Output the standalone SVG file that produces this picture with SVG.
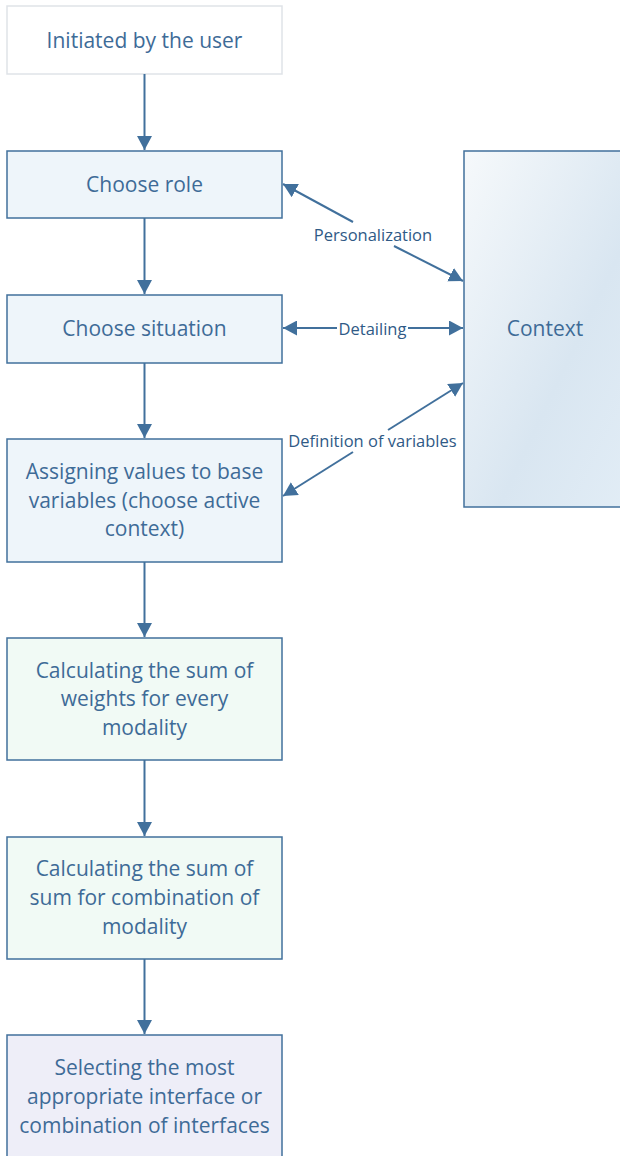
<svg xmlns="http://www.w3.org/2000/svg" width="620" height="1156" viewBox="0 0 620 1156">
<style>
.box{stroke:#41709c;stroke-width:1.5}
.t{font-family:"Open Sans","Liberation Sans",sans-serif;font-size:21px;fill:#3e6b97;text-anchor:middle;dominant-baseline:central}
.l{font-family:"Open Sans","Liberation Sans",sans-serif;font-size:16.5px;fill:#2f5a86;text-anchor:middle;dominant-baseline:central}
.c{stroke:#41709c;stroke-width:2;fill:none}
</style>
<defs>
<marker id="ah" viewBox="0 0 14 15" refX="14" refY="7.5" markerWidth="14" markerHeight="15" markerUnits="userSpaceOnUse" orient="auto-start-reverse">
<path d="M0,0 L14,7.5 L0,15 z" fill="#41709c"/>
</marker>
<linearGradient id="cg" x1="0" y1="0" x2="1" y2="1">
<stop offset="0" stop-color="#f6f9fb"/>
<stop offset="0.6" stop-color="#d9e6f1"/>
<stop offset="1" stop-color="#e2edf6"/>
</linearGradient>
</defs>
<g id="n1"><rect x="7" y="6" width="275" height="68" fill="#ffffff" stroke="#dfe3e8" stroke-width="1.5"/><text class="t" x="144.5" y="40">Initiated by the user</text></g>
<g id="n2"><rect class="box" x="7" y="151" width="275" height="67" fill="#eef5fa"/><text class="t" x="144.5" y="184">Choose role</text></g>
<g id="n3"><rect class="box" x="7" y="295" width="275" height="68" fill="#eef5fa"/><text class="t" x="144.5" y="328">Choose situation</text></g>
<g id="n4"><rect class="box" x="7" y="439" width="275" height="123" fill="#eef5fa"/><text class="t" x="144.5" y="471">Assigning values to base</text><text class="t" x="144.5" y="500">variables (choose active</text><text class="t" x="144.5" y="528">context)</text></g>
<g id="n5"><rect class="box" x="7" y="638" width="275" height="122" fill="#f1faf5"/><text class="t" x="144.5" y="670">Calculating the sum of</text><text class="t" x="144.5" y="698">weights for every</text><text class="t" x="144.5" y="727">modality</text></g>
<g id="n6"><rect class="box" x="7" y="837" width="275" height="122" fill="#f1faf5"/><text class="t" x="144.5" y="868">Calculating the sum of</text><text class="t" x="144.5" y="897">sum for combination of</text><text class="t" x="144.5" y="926">modality</text></g>
<g id="n7"><rect class="box" x="7" y="1035" width="275" height="130" fill="#eeeef8"/><text class="t" x="144.5" y="1067">Selecting the most</text><text class="t" x="144.5" y="1096">appropriate interface or</text><text class="t" x="144.5" y="1125">combination of interfaces</text></g>
<g id="ctx"><rect class="box" x="464" y="151" width="170" height="356" fill="url(#cg)"/><text class="t" x="545" y="328">Context</text></g>
<g id="connectors">
<line class="c" x1="353" y1="222" x2="283" y2="184" marker-end="url(#ah)"/>
<line class="c" x1="394" y1="246" x2="463" y2="281" marker-end="url(#ah)"/>
<text class="l" x="373" y="234">Personalization</text>
<line class="c" x1="337" y1="328" x2="283" y2="328" marker-end="url(#ah)"/>
<line class="c" x1="408" y1="328" x2="463" y2="328" marker-end="url(#ah)"/>
<text class="l" x="372.5" y="328">Detailing</text>
<line class="c" x1="388" y1="430" x2="463" y2="383" marker-end="url(#ah)"/>
<line class="c" x1="353" y1="452" x2="283" y2="496" marker-end="url(#ah)"/>
<text class="l" x="372.5" y="440">Definition of variables</text>
<line class="c" x1="144.5" y1="74" x2="144.5" y2="150" marker-end="url(#ah)"/>
<line class="c" x1="144.5" y1="218" x2="144.5" y2="294" marker-end="url(#ah)"/>
<line class="c" x1="144.5" y1="363" x2="144.5" y2="438" marker-end="url(#ah)"/>
<line class="c" x1="144.5" y1="562" x2="144.5" y2="637" marker-end="url(#ah)"/>
<line class="c" x1="144.5" y1="760" x2="144.5" y2="836" marker-end="url(#ah)"/>
<line class="c" x1="144.5" y1="959" x2="144.5" y2="1034" marker-end="url(#ah)"/>
</g>
</svg>
